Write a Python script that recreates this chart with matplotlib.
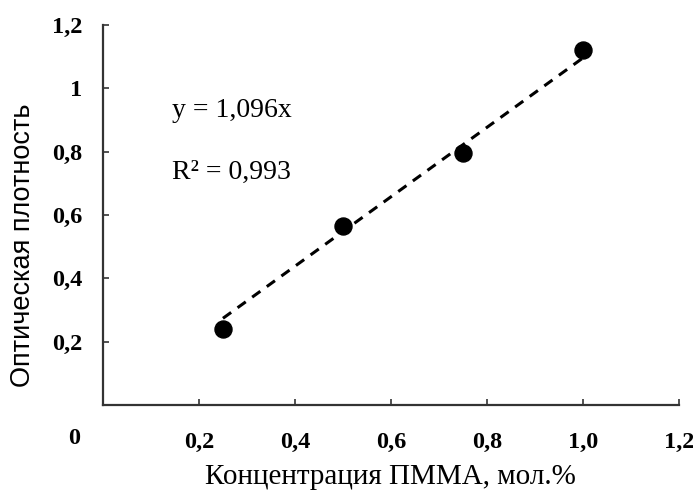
import matplotlib
matplotlib.use("Agg")
import matplotlib.pyplot as plt
import numpy as np

plt.rcParams["font.family"] = ["Liberation Serif", "DejaVu Serif"]

# ====== DATA ======
conc = [0.25, 0.5, 0.75, 1.0]
density = [0.24, 0.565, 0.795, 1.12]
slope = 1.096
x_ticks = [0.2, 0.4, 0.6, 0.8, 1.0, 1.2]
x_tick_labels = ["0,2", "0,4", "0,6", "0,8", "1,0", "1,2"]
y_ticks = [0.2, 0.4, 0.6, 0.8, 1.0, 1.2]
y_tick_labels = ["0,2", "0,4", "0,6", "0,8", "1", "1,2"]

# ====== PLOT ======
fig = plt.figure(figsize=(6.93, 4.91), dpi=100)
ax = fig.add_axes([0.1486, 0.175, 0.831, 0.774])

fit_x = np.array([conc[0], conc[-1]])
ax.plot(fit_x, slope * fit_x, color="black", linestyle=(0, (3.3, 2.6)), linewidth=2.2)
ax.scatter(conc, density, s=150, color="black", zorder=3)

ax.set_xlim(0, 1.2)
ax.set_ylim(0, 1.2)
ax.set_xticks(x_ticks)
ax.set_xticklabels(x_tick_labels, fontsize=17.5, fontweight="bold")
ax.set_yticks(y_ticks)
ax.set_yticklabels(y_tick_labels, fontsize=17.5, fontweight="bold")
ax.tick_params(axis="x", direction="in", length=4, width=1.2, pad=19, colors="#333333", labelcolor="black")
ax.tick_params(axis="y", direction="in", length=4, width=1.2, pad=15, colors="#333333", labelcolor="black")

for side in ["top", "right"]:
    ax.spines[side].set_visible(False)
for side in ["left", "bottom"]:
    ax.spines[side].set_linewidth(1.6)
    ax.spines[side].set_color("#333333")

# corner zero label (Excel-style crossing axes)
ax.text(-0.048, -0.107, "0", fontsize=17.5, fontweight="bold",
        ha="right", va="center", clip_on=False)

ax.text(0.144, 0.93, "y = 1,096x", fontsize=20, va="center")
ax.text(0.144, 0.735, "R² = 0,993", fontsize=20, va="center")

ax.set_xlabel("Концентрация ПММА, мол.%", fontsize=21, va="center")
ax.xaxis.set_label_coords(0.5, -0.189)
ax.set_ylabel("Оптическая плотность", fontsize=19.5, va="center",
              family=["Liberation Sans", "DejaVu Sans"])
ax.yaxis.set_label_coords(-0.139, 0.42)

fig.savefig("out.png", dpi=100)
plt.close(fig)
